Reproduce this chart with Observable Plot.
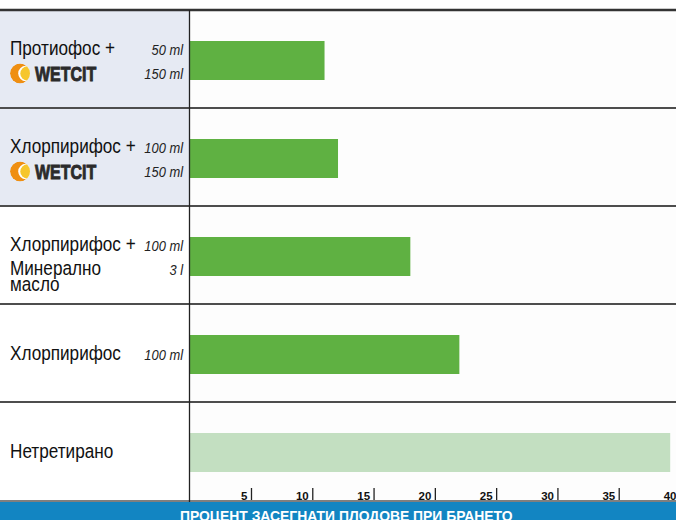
<!DOCTYPE html>
<html>
<head>
<meta charset="utf-8">
<script src="https://cdn.jsdelivr.net/npm/d3@7"></script>
<script src="https://cdn.jsdelivr.net/npm/@observablehq/plot@0.6"></script>
<style>
  html, body { margin: 0; padding: 0; background: #ffffff; }
  #wrap { width: 676px; height: 520px; overflow: hidden; position: relative; }
  #footer {
    width: 676px; height: 18px; background: #1285c2; overflow: hidden;
    color: #ffffff; font-family: "Liberation Sans", Arial, sans-serif; font-weight: bold;
    font-size: 13.9px; line-height: 14px; padding-top: 7px; box-sizing: border-box;
    padding-left: 180px; white-space: nowrap;
  }
</style>
</head>
<body>
<div id="wrap"><div id="chart"></div><div id="footer"></div></div>
<script>
// ---- data ----
const categories = ["Протиофос + WETCIT", "Хлорпирифос + WETCIT", "Хлорпирифос + Минерално масло", "Хлорпирифос", "Нетретирано"];
const values = [11, 12.1, 18, 22, 39.2];
const labelLines = [["Протиофос +"], ["Хлорпирифос +"], ["Хлорпирифос +", "Минерално", "масло"], ["Хлорпирифос"], ["Нетретирано"]];
const doses = [["50 ml", "150 ml"], ["100 ml", "150 ml"], ["100 ml", "3 l"], ["100 ml"], []];
const withWetcit = [true, true, false, false, false];
const logoText = "WETCIT";
const tickValues = [5, 10, 15, 20, 25, 30, 35, 40];
const xTitle = "ПРОЦЕНТ ЗАСЕГНАТИ ПЛОДОВЕ ПРИ БРАНЕТО";
const untreated = "Нетретирано";

const data = categories.map((c, i) => ({cat: c, value: values[i]}));

const labelFont = '"Liberation Sans", Arial, sans-serif';

function narrowText(g, x, y, t, size, sx, opts = {}) {
  const el = g.append("text")
    .attr("transform", `translate(${x},${y}) scale(${sx},1)`)
    .attr("x", 0).attr("y", 0)
    .attr("text-anchor", opts.anchor || "start")
    .attr("font-family", labelFont).attr("font-size", size)
    .attr("fill", opts.fill || "#111")
    .text(t);
  if (opts.weight) el.attr("font-weight", opts.weight);
  if (opts.italic) el.attr("font-style", "italic");
  if (opts.stroke) el.attr("stroke", opts.fill || "#111").attr("stroke-width", opts.stroke);
  return el;
}

// left panel: shaded cells + labels, drawn with the y scale
function leftPanel(index, scales, values, dims) {
  const y = scales.y;
  const bw = y(categories[1]) - y(categories[0]);
  const g = d3.create("svg:g");
  const defs = g.append("defs");
  categories.forEach((c, i) => {
    const top = y(c);
    if (withWetcit[i]) {
      g.append("rect").attr("x", 0).attr("y", top).attr("width", dims.marginLeft).attr("height", bw).attr("fill", "#e6eaf3");
    }
    const lines = labelLines[i];
    const dose = doses[i];
    const twoLine = lines.length > 1 || withWetcit[i] || dose.length > 1;
    const base1 = twoLine ? top + 45 : top + bw / 2 + 7;
    const base2 = top + 69;
    lines.forEach((t, j) => {
      const yy = j === 0 ? base1 : (j === 1 ? top + 69 : top + 85);
      narrowText(g, 10, yy, t, 19.5, 0.88);
    });
    dose.forEach((t, j) => {
      narrowText(g, 183, j === 0 ? base1 : base2, t, 14, 0.92, {anchor: "end", italic: true, fill: "#222"});
    });
    if (withWetcit[i]) {
      const cy = top + 63.5, cx = 20, r = 10;
      const id = "clip" + i;
      defs.append("clipPath").attr("id", id).append("circle").attr("cx", cx).attr("cy", cy).attr("r", r);
      const lg = g.append("g").attr("clip-path", `url(#${id})`);
      lg.append("circle").attr("cx", cx).attr("cy", cy).attr("r", r).attr("fill", "#ef8f12");
      lg.append("circle").attr("cx", cx + 6).attr("cy", cy).attr("r", 7.8).attr("fill", "#ffffff");
      lg.append("circle").attr("cx", cx + 7.5).attr("cy", cy).attr("r", 7.2).attr("fill", "#f6c62c");
      narrowText(g, 35, cy + 7.5, logoText, 20.5, 0.78, {weight: 900, fill: "#2b2b2b", stroke: 0.9});
    }
  });
  return g.node();
}

// grid lines: row separators and the vertical divider
function frameLines(index, scales, values, dims) {
  const y = scales.y;
  const bw = y(categories[1]) - y(categories[0]);
  const g = d3.create("svg:g");
  const top0 = y(categories[0]);
  g.append("line").attr("x1", 0).attr("x2", dims.width).attr("y1", top0).attr("y2", top0)
    .attr("stroke", "#333").attr("stroke-width", 2.5);
  categories.slice(1).forEach(c => {
    const t = y(c);
    g.append("line").attr("x1", 0).attr("x2", dims.width).attr("y1", t).attr("y2", t)
      .attr("stroke", "#4d4d4d").attr("stroke-width", 2);
  });
  const bottom = y(categories[categories.length - 1]) + bw;
  g.append("line").attr("x1", 0).attr("x2", dims.width).attr("y1", bottom + 1).attr("y2", bottom + 1)
    .attr("stroke", "#555").attr("stroke-width", 1.5);
  g.append("line").attr("x1", dims.marginLeft + 0.5).attr("x2", dims.marginLeft + 0.5)
    .attr("y1", top0).attr("y2", bottom + 2).attr("stroke", "#222").attr("stroke-width", 1.3);
  return g.node();
}

const chart = Plot.plot({
  width: 676,
  height: 502,
  marginTop: 10,
  marginBottom: 2,
  marginLeft: 189,
  marginRight: 0,
  style: {background: "#ffffff", overflow: "hidden"},
  x: {domain: [0, 40], range: [189.7, 680], axis: null},
  y: {domain: categories, range: [10, 500], padding: 0, axis: null},
  marks: [
    Plot.frame({fill: "#fdfdfd", stroke: null}),
    leftPanel,
    Plot.barX(data, {
      x: "value", y: "cat",
      fill: d => d.cat === untreated ? "#c3dfc1" : "#5fb142",
      insetTop: 31, insetBottom: 28
    }),
    Plot.ruleX(tickValues, {x: d => d, insetTop: 478, stroke: "#222", strokeWidth: 1.3}),
    Plot.text(tickValues, {
      x: d => d, text: d => String(d), frameAnchor: "bottom", lineAnchor: "bottom",
      textAnchor: "end", dx: -4, dy: -1, fontWeight: "bold", fontSize: 11.5, fill: "#111",
      fontFamily: labelFont
    }),
    frameLines
  ]
});
document.getElementById("chart").appendChild(chart);
document.getElementById("footer").textContent = xTitle;
</script>
</body>
</html>
